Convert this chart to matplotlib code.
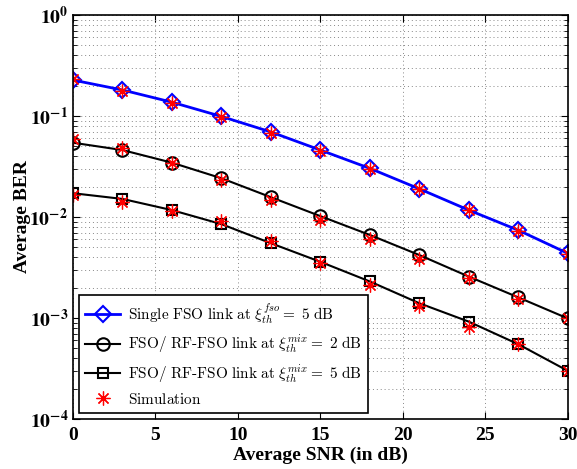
import numpy as np
import matplotlib
matplotlib.use('Agg')
import matplotlib.pyplot as plt
from matplotlib.ticker import FixedLocator, FuncFormatter, LogLocator, NullFormatter

# data
snr = [0, 3, 6, 9, 12, 15, 18, 21, 24, 27, 30]
ber_fso = [0.227, 0.181, 0.137, 0.099, 0.0695, 0.046, 0.0303, 0.019, 0.0117, 0.0074, 0.00437]
ber_mix2 = [0.0544, 0.046, 0.0345, 0.0242, 0.0157, 0.0102, 0.00664, 0.0042, 0.00257, 0.0016, 0.00099]
ber_mix5 = [0.0172, 0.0151, 0.0117, 0.0085, 0.0055, 0.0036, 0.0023, 0.0014, 0.00092, 0.00055, 0.0003]
sim_fso = [0.232, 0.178, 0.135, 0.098, 0.068, 0.045, 0.030, 0.0188, 0.0118, 0.0073, 0.0043]
sim_mix2 = [0.0588, 0.0479, 0.0340, 0.0232, 0.0147, 0.0093, 0.0060, 0.0038, 0.00247, 0.00153, 0.00099]
sim_mix5 = [0.0165, 0.0142, 0.0115, 0.0091, 0.0058, 0.0035, 0.0021, 0.0013, 0.00082, 0.00055, 0.0003]

labels = [r'$\mathrm{Single\ FSO\ link\ at\ }\xi_{th}^{fso}\mathrm{=\ 5\ dB}$',
          r'$\mathrm{FSO/\ RF\text{-}FSO\ link\ at\ }\xi_{th}^{mix}\mathrm{=\ 2\ dB}$',
          r'$\mathrm{FSO/\ RF\text{-}FSO\ link\ at\ }\xi_{th}^{mix}\mathrm{=\ 5\ dB}$',
          r'$\mathrm{Simulation}$']

plt.rcParams['mathtext.fontset'] = 'cm'
plt.rcParams['font.family'] = 'Liberation Serif'

fig = plt.figure(figsize=(5.77, 4.69), dpi=100)
ax = fig.add_axes([0.1265, 0.1066, 0.8575, 0.8614])

star = (8, 2, 0)
l1, = ax.plot(snr, ber_fso, color='blue', lw=2, marker='D', ms=8, mfc='none', mew=1.5)
l2, = ax.plot(snr, ber_mix2, color='black', lw=1.5, marker='o', ms=9, mfc='none', mew=1.5)
l3, = ax.plot(snr, ber_mix5, color='black', lw=1.5, marker='s', ms=7, mfc='none', mew=1.5)
s1, = ax.plot(snr, sim_fso, ls='none', color='red', marker=star, ms=10, mew=0.9)
ax.plot(snr, sim_mix2, ls='none', color='red', marker=star, ms=10, mew=0.9)
ax.plot(snr, sim_mix5, ls='none', color='red', marker=star, ms=10, mew=0.9)

ax.set_yscale('log')
ax.set_xlim(0, 30)
ax.set_ylim(1e-4, 1)
ax.set_xticks([0, 5, 10, 15, 20, 25, 30])
ax.yaxis.set_major_locator(FixedLocator([1e-4, 1e-3, 1e-2, 1e-1, 1]))
ax.yaxis.set_minor_locator(LogLocator(base=10, subs=np.arange(2, 10)))
ax.yaxis.set_minor_formatter(NullFormatter())
ax.yaxis.set_major_formatter(FuncFormatter(lambda v, p: r'$\mathbf{10}^{\mathbf{%d}}$' % round(np.log10(v))))
ax.tick_params(which='both', direction='in', right=True, top=True, labelsize=14)
ax.tick_params(axis='x', pad=6)
ax.tick_params(which='major', length=5)
ax.tick_params(which='minor', length=3)
for t in ax.get_xticklabels():
    t.set_fontweight('bold')
for t in ax.get_yticklabels():
    t.set_math_fontfamily('stix')

ax.grid(True, which='major', ls=(0, (1, 3)), color='#888888', lw=0.7)
ax.grid(True, which='minor', axis='y', ls=(0, (1, 3)), color='#888888', lw=0.7)
for sp in ax.spines.values():
    sp.set_linewidth(1.2)

ax.set_xlabel('Average SNR (in dB)', fontsize=14, fontweight='bold', labelpad=2)
ax.set_ylabel('Average BER', fontsize=14, fontweight='bold')
ax.yaxis.set_label_coords(-0.084, 0.5)

leg = ax.legend([l1, l2, l3, s1], labels, loc='lower left', fontsize=11,
                fancybox=False, edgecolor='black', framealpha=1,
                handlelength=2.3, borderaxespad=0.4, labelspacing=0.45,
                borderpad=0.4, handletextpad=0.5)
leg.get_frame().set_linewidth(1.2)

fig.savefig('out.png', dpi=100)
